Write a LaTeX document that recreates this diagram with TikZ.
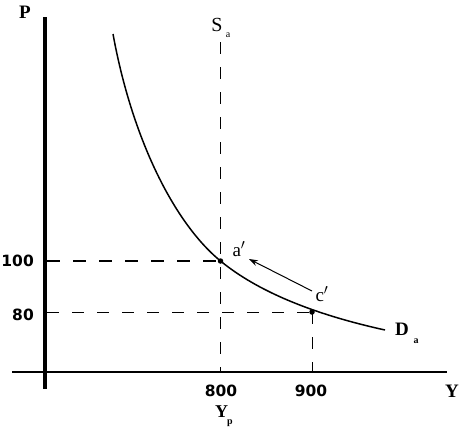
\documentclass[tikz,border=0pt]{standalone}
\usepackage{fontspec}
\setmainfont{Liberation Serif}
\newfontfamily\numfont{DejaVu Sans}
\usetikzlibrary{arrows.meta}
\tikzset{
  axisline/.style={line width=1.6pt},
  vaxis/.style={line width=3.6pt},
  guide/.style={line width=0.7pt, dash pattern=on 12pt off 13pt},
  guidebold/.style={line width=1.2pt, dash pattern=on 13pt off 13pt},
  curve/.style={line width=1.5pt},
  dot/.style={circle, fill=black, inner sep=0pt, minimum size=5.5pt},
  numlab/.style={font=\numfont\bfseries\fontsize{15.5}{17}\selectfont, inner sep=0pt},
  axlab/.style={font=\bfseries\fontsize{19}{21}\selectfont, inner sep=0pt},
  ptlab/.style={font=\fontsize{19}{21}\selectfont, inner sep=0pt},
  moveline/.style={line width=1pt, -{Stealth[length=9pt,width=6pt]}}
}
\begin{document}
\begin{tikzpicture}[x=1pt,y=-1pt]
\useasboundingbox (0,0) rectangle (462,434);
% axes
\coordinate (vtop) at (45,17);
\coordinate (vbot) at (45,389);
\coordinate (hleft) at (12,372);
\coordinate (hright) at (447,372);
\draw[vaxis] (vtop) -- (vbot);
\draw[axisline] (hleft) -- (hright);
\node[axlab] (P) at (25,12) {P};
\node[axlab] (Y) at (452,391) {Y};
% points
\coordinate (A) at (220.5,261);
\coordinate (C) at (312,312);
\coordinate (ya) at (47,261);
\coordinate (yc) at (47,312);
\coordinate (x8) at (220.5,372);
\coordinate (x9) at (312,372);
\coordinate (stop) at (220.5,42);
\coordinate (dstart) at (113,34);
\coordinate (dend) at (385,330);
% guides
\draw[guidebold] (ya) -- (A);
\draw[guide] (yc) -- (C);
\draw[guide] (stop) -- (x8);
\draw[guide] (C) -- (x9);
% demand curve
\draw[curve] (dstart) .. controls (131.4,135.1) and (172.3,221.3) .. (A)
  .. controls (257,290.9) and (311.8,313.9) .. (dend);
\node[dot] (Ad) at (A) {};
\node[dot] (Cd) at (C) {};
% arrow
\coordinate (atail) at (312,291);
\coordinate (ahead) at (249,259);
\draw[moveline] (atail) -- (ahead);
% labels
\node[ptlab] (al) at (239,249) {a$'$};
\node[ptlab] (cl) at (322,294) {c$'$};
\node[font=\fontsize{20}{22}\selectfont, inner sep=0pt] (S) at (217,25) {S};
\node[font=\fontsize{10}{11}\selectfont, inner sep=0pt] (Ssub) at (228,35) {a};
\node[axlab] (D) at (402,329) {D};
\node[font=\bfseries\fontsize{10}{11}\selectfont, inner sep=0pt] (Dsub) at (416,341) {a};
\node[numlab, anchor=east] (n100) at (34,261) {100};
\node[numlab, anchor=east] (n80) at (34,315) {80};
\node[numlab] (n800) at (221,391) {800};
\node[numlab] (n900) at (311,391) {900};
\node[font=\bfseries\fontsize{18}{20}\selectfont, inner sep=0pt] (Yp) at (221.5,412) {Y};
\node[font=\bfseries\fontsize{10}{11}\selectfont, inner sep=0pt] (Ypsub) at (230,423) {p};
\end{tikzpicture}
\end{document}
